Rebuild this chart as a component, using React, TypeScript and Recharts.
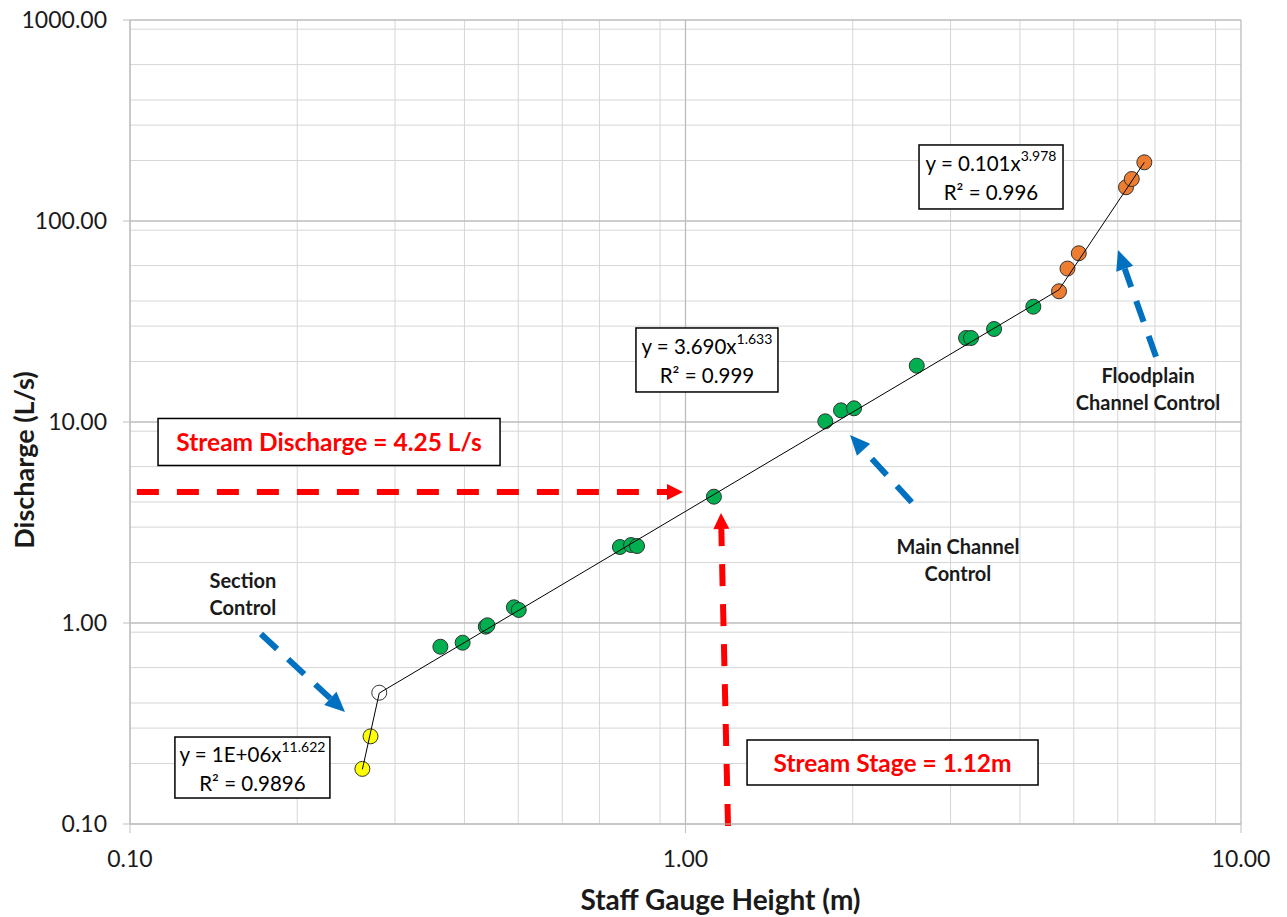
import React from 'react';
import {
  ScatterChart, Scatter, XAxis, YAxis, CartesianGrid, ReferenceLine, ReferenceDot,
} from 'recharts';

// ---- data ----
const sectionX = [0.262, 0.271];
const sectionY = [0.188, 0.273];
const breakX = [0.281];
const breakY = [0.45];
const mainX = [0.362, 0.397, 0.437, 0.44, 0.491, 0.501, 0.762, 0.798, 0.818, 1.125, 1.785, 1.905, 2.011, 2.608, 3.199, 3.266, 3.593, 4.228];
const mainY = [0.762, 0.798, 0.959, 0.974, 1.197, 1.161, 2.388, 2.443, 2.415, 4.25, 10.08, 11.43, 11.7, 19.06, 26.18, 26.18, 29.02, 37.47];
const floodX = [4.703, 4.871, 5.105, 6.209, 6.358, 6.699];
const floodY = [44.7, 58.0, 69.1, 147.2, 161.8, 195.9];

// trend line end points
const sectionFitX = [0.262, 0.281];
const sectionFitY = [0.187, 0.448];
const mainFitX = [0.281, 4.703];
const mainFitY = [0.448, 45.5];
const floodFitX = [4.703, 6.699];
const floodFitY = [45.5, 195.9];

const xTicks = [0.1, 1, 10];
const yTicks = [0.1, 1, 10, 100, 1000];

const eqSection = { base: 'y = 1E+06x', exp: '11.622', r2: 'R² = 0.9896' };
const eqMain = { base: 'y = 3.690x', exp: '1.633', r2: 'R² = 0.999' };
const eqFlood = { base: 'y = 0.101x', exp: '3.978', r2: 'R² = 0.996' };

const dischargeText = 'Stream Discharge = 4.25 L/s';
const stageText = 'Stream Stage = 1.12m';
const sectionLabel = ['Section', 'Control'];
const mainLabel = ['Main Channel', 'Control'];
const floodLabel = ['Floodplain', 'Channel Control'];

const toPts = (xs: number[], ys: number[]) => xs.map((x, i) => ({ x, y: ys[i] }));

// grid values
const minorVals = (lo: number, hi: number) => {
  const out: number[] = [];
  for (let d = lo; d < hi; d *= 10) for (let k = 2; k <= 9; k++) out.push(+(d * k).toPrecision(3));
  return out;
};
const xMinor = minorVals(0.1, 10);
const yMinor = minorVals(0.1, 1000);

const FONT = 'Lato, "Open Sans", sans-serif';

const dot = (fill: string) => (p: any) => (
  <circle cx={p.cx} cy={p.cy} r={7.5} fill={fill} stroke="#333" strokeWidth={1} />
);
const noDot = () => <g />;

const makeArrow = (color: string, width: number, dash: string, headLen: number, headW: number) => (p: any) => {
  const { x1, y1, x2, y2 } = p;
  const dx = x2 - x1, dy = y2 - y1;
  const len = Math.hypot(dx, dy) || 1;
  const ux = dx / len, uy = dy / len;
  const bx = x2 - ux * headLen, by = y2 - uy * headLen;
  const nx = -uy, ny = ux;
  return (
    <g>
      <line x1={x1} y1={y1} x2={bx} y2={by} stroke={color} strokeWidth={width} strokeDasharray={dash} />
      <polygon
        points={`${x2},${y2} ${bx + nx * headW / 2},${by + ny * headW / 2} ${bx - nx * headW / 2},${by - ny * headW / 2}`}
        fill={color}
      />
    </g>
  );
};

const eqBox = (w: number, h: number, eq: { base: string; exp: string; r2: string }) => (p: any) => (
  <g>
    <rect x={p.cx - w / 2} y={p.cy - h / 2} width={w} height={h} fill="#fff" stroke="#000" strokeWidth={1.5} />
    <text x={p.cx} y={p.cy - 14} textAnchor="middle" dominantBaseline="central" fontFamily={FONT} fontSize={20.5} fill="#000">
      <tspan>{eq.base}</tspan>
      <tspan fontSize={14} dy={-8}>{eq.exp}</tspan>
    </text>
    <text x={p.cx} y={p.cy + 15} textAnchor="middle" dominantBaseline="central" fontFamily={FONT} fontSize={20.5} fill="#000">
      {eq.r2}
    </text>
  </g>
);

const redBox = (w: number, h: number, label: string) => (p: any) => (
  <g>
    <rect x={p.cx - w / 2} y={p.cy - h / 2} width={w} height={h} fill="#fff" stroke="#000" strokeWidth={1.5} />
    <text x={p.cx} y={p.cy} textAnchor="middle" dominantBaseline="central" fontFamily={FONT} fontWeight={700} fontSize={24.5} fill="#ff0000">
      {label}
    </text>
  </g>
);

const twoLine = (lines: string[]) => (p: any) => (
  <g>
    {lines.map((l, i) => (
      <text key={i} x={p.cx} y={p.cy + (i - 0.5) * 27} textAnchor="middle" dominantBaseline="central"
        fontFamily={FONT} fontWeight={700} fontSize={20} fill="#1a1a1a">{l}</text>
    ))}
  </g>
);

const redArrow = makeArrow('#ff0000', 6, '22 18', 16, 16);
const blueArrow = makeArrow('#0070c0', 6, '22 15', 20, 18);

export default function App() {
  return (
    <div style={{ position: 'absolute', left: 0, top: 0, background: '#fff' }}>
      <ScatterChart width={1287} height={917} margin={{ top: 20, right: 46, bottom: 13, left: 10 }}>
        <CartesianGrid stroke="#d6d6d6" strokeWidth={1} horizontalValues={yMinor} verticalValues={xMinor} />
        <CartesianGrid stroke="#bcbcbc" strokeWidth={1.3} horizontalValues={yTicks} verticalValues={xTicks} />
        <XAxis
          type="number" dataKey="x" scale="log" domain={[0.1, 10]} ticks={xTicks} allowDataOverflow
          tickFormatter={(v: number) => v.toFixed(2)}
          stroke="#bfbfbf" tickSize={9} tickMargin={18} height={80}
          tick={{ fill: '#1a1a1a', fontSize: 23, fontFamily: FONT }}
          label={{
            content: (p: any) => {
              const vb = p.viewBox;
              return (
                <text x={vb.x + vb.width / 2 + 35} y={vb.y + 75} textAnchor="middle" dominantBaseline="central"
                  fontFamily={FONT} fontWeight={700} fontSize={28} fill="#1a1a1a">Staff Gauge Height (m)</text>
              );
            },
          }}
        />
        <YAxis
          type="number" dataKey="y" scale="log" domain={[0.1, 1000]} ticks={yTicks} allowDataOverflow
          tickFormatter={(v: number) => v.toFixed(2)}
          stroke="#bfbfbf" tickSize={7} tickMargin={16} width={120}
          tick={{ fill: '#1a1a1a', fontSize: 23, fontFamily: FONT }}
          label={{
            content: (p: any) => {
              const vb = p.viewBox;
              const cx = vb.x + 13;
              const cy = vb.y + vb.height / 2 + 38;
              return (
                <text x={cx} y={cy} transform={`rotate(-90, ${cx}, ${cy})`} textAnchor="middle" dominantBaseline="central"
                  fontFamily={FONT} fontWeight={700} fontSize={27} fill="#1a1a1a">Discharge (L/s)</text>
              );
            },
          }}
        />

        <Scatter data={toPts(sectionX, sectionY)} shape={dot('#ffff00')} isAnimationActive={false} />
        <Scatter data={toPts(breakX, breakY)} shape={dot('#ffffff')} isAnimationActive={false} />
        <Scatter data={toPts(mainX, mainY)} shape={dot('#00b050')} isAnimationActive={false} />
        <Scatter data={toPts(floodX, floodY)} shape={dot('#ed7d31')} isAnimationActive={false} />

        <Scatter data={toPts(sectionFitX, sectionFitY)} line={{ stroke: '#000', strokeWidth: 1 }} lineType="joint" shape={noDot} isAnimationActive={false} />
        <Scatter data={toPts(mainFitX, mainFitY)} line={{ stroke: '#000', strokeWidth: 1 }} lineType="joint" shape={noDot} isAnimationActive={false} />
        <Scatter data={toPts(floodFitX, floodFitY)} line={{ stroke: '#000', strokeWidth: 1 }} lineType="joint" shape={noDot} isAnimationActive={false} />

        {/* arrows */}
        <ReferenceLine segment={[{ x: 0.1029, y: 4.484 }, { x: 0.9897, y: 4.484 }]} ifOverflow="visible" shape={redArrow} />
        <ReferenceLine segment={[{ x: 1.1927, y: 0.0977 }, { x: 1.1584, y: 3.526 }]} ifOverflow="visible" shape={redArrow} />
        <ReferenceLine segment={[{ x: 0.1721, y: 0.8817 }, { x: 0.2438, y: 0.3607 }]} ifOverflow="visible" shape={blueArrow} />
        <ReferenceLine segment={[{ x: 2.554, y: 3.986 }, { x: 1.978, y: 8.614 }]} ifOverflow="visible" shape={blueArrow} />
        <ReferenceLine segment={[{ x: 7.031, y: 21.13 }, { x: 6.006, y: 71.74 }]} ifOverflow="visible" shape={blueArrow} />

        {/* boxes & labels */}
        <ReferenceDot x={0.2282} y={7.955} r={1} ifOverflow="visible" shape={redBox(342, 47, dischargeText)} />
        <ReferenceDot x={2.359} y={0.2023} r={1} ifOverflow="visible" shape={redBox(291, 45, stageText)} />
        <ReferenceDot x={0.1661} y={0.191} r={1} ifOverflow="visible" shape={eqBox(155, 61, eqSection)} />
        <ReferenceDot x={1.093} y={20.35} r={1} ifOverflow="visible" shape={eqBox(142, 64, eqMain)} />
        <ReferenceDot x={3.548} y={165.6} r={1} ifOverflow="visible" shape={eqBox(144, 64, eqFlood)} />
        <ReferenceDot x={0.1597} y={1.41} r={1} ifOverflow="visible" shape={twoLine(sectionLabel)} />
        <ReferenceDot x={3.094} y={2.058} r={1} ifOverflow="visible" shape={twoLine(mainLabel)} />
        <ReferenceDot x={6.803} y={14.6} r={1} ifOverflow="visible" shape={twoLine(floodLabel)} />
      </ScatterChart>
    </div>
  );
}
